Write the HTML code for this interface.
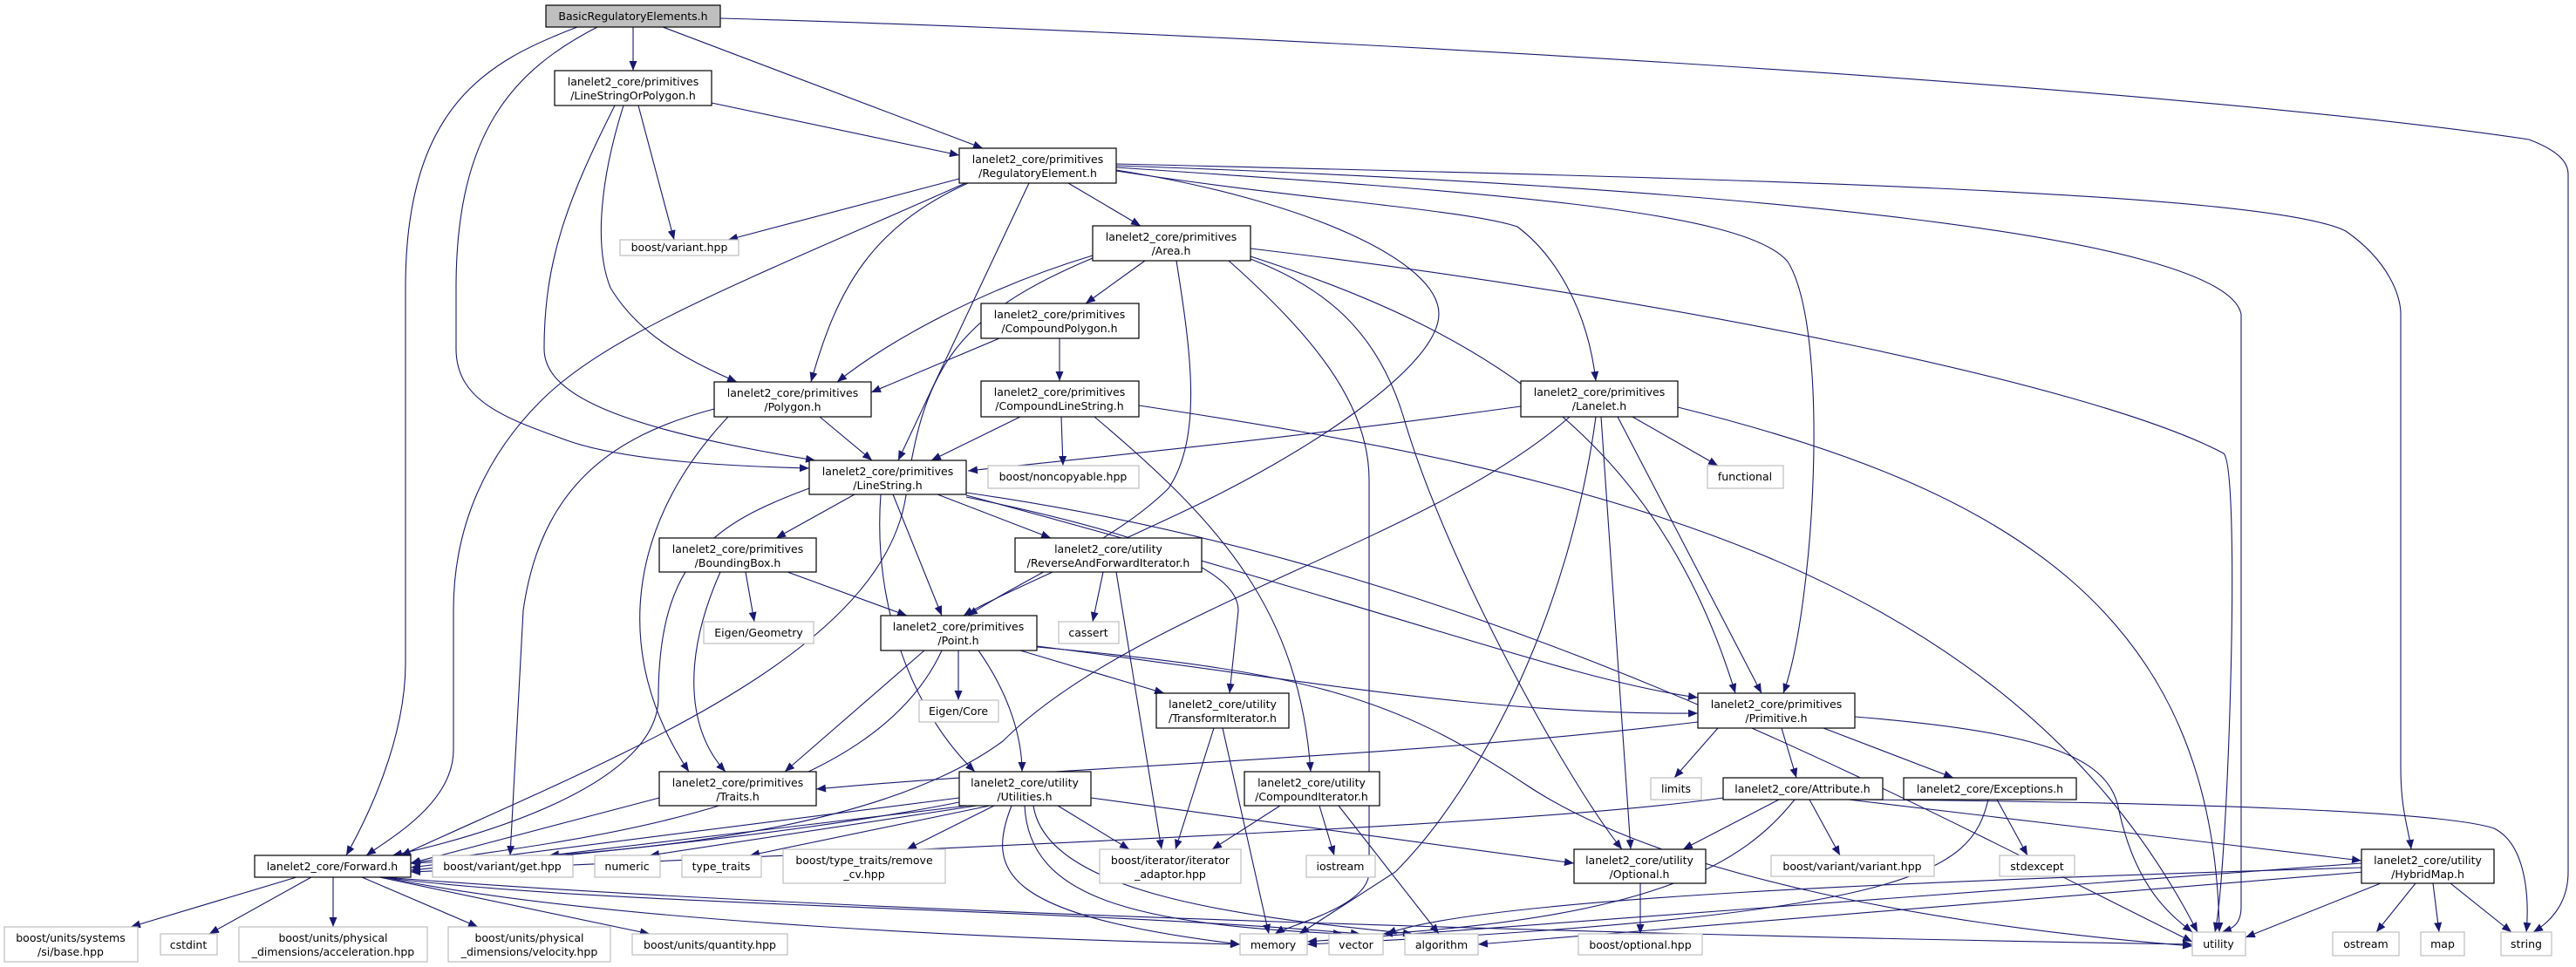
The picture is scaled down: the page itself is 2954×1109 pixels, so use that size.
<!DOCTYPE html>
<html><head><meta charset="utf-8"><style>
html,body{margin:0;padding:0;background:#fff;}
svg{display:block;}
text{font-family:"DejaVu Sans","Liberation Sans",sans-serif;font-size:12.5px;fill:#000;}
.e{fill:none;stroke:#191970;stroke-width:1.1;marker-end:url(#a);}
.n{fill:#fff;stroke:#000;stroke-width:1.2;}
.g{fill:#fff;stroke:#bfbfbf;stroke-width:1.2;}
</style></head><body>
<svg width="2954" height="1109" viewBox="0 0 2954 1109" xmlns="http://www.w3.org/2000/svg">
<defs><marker id="a" markerUnits="userSpaceOnUse" markerWidth="12" markerHeight="9" refX="11" refY="4.5" orient="auto"><path d="M0,0 L11,4.5 L0,9 z" fill="#191970"/></marker></defs>
<g>
<path class="e" d="M726,31 L726,81"/>
<path class="e" d="M760,31 L1127,170"/>
<path class="e" d="M662,31 C560,70 465,120 465,330 L465,760 C465,850 420,940 397,981"/>
<path class="e" d="M685,31 C590,80 523,150 523,330 L523,400 C523,460 580,480 650,505 C720,530 850,535 928,537"/>
<path class="e" d="M826,21 C1500,40 2500,100 2900,160 C2940,175 2945,190 2945,200 L2945,1000 C2945,1040 2920,1060 2905,1069"/>
<path class="e" d="M816,118 L1100,178"/>
<path class="e" d="M732,121 L773,275"/>
<path class="e" d="M715,121 C690,200 680,280 700,330 C730,380 780,410 845,438"/>
<path class="e" d="M705,121 C650,230 624,300 624,400 C624,450 700,490 935,528"/>
<path class="e" d="M1100,205 L835,275"/>
<path class="e" d="M1107,210 C860,320 700,380 620,460 C560,520 520,600 520,700 L520,860 C520,920 450,960 420,981"/>
<path class="e" d="M1110,210 C1000,260 960,330 930,438"/>
<path class="e" d="M1180,210 L1030,528"/>
<path class="e" d="M1225,210 L1308,259"/>
<path class="e" d="M1280,195 C1500,230 1650,300 1650,360 C1650,420 1500,520 1350,590 C1200,660 1130,690 1105,706"/>
<path class="e" d="M1280,196 C1500,230 1680,240 1740,260 C1780,290 1820,350 1830,437"/>
<path class="e" d="M1280,192 C1700,220 2000,240 2050,300 C2100,380 2080,700 2045,795"/>
<path class="e" d="M1280,190 C2000,215 2550,270 2570,360 L2570,1040 C2570,1060 2560,1065 2548,1069"/>
<path class="e" d="M1280,188 C2000,205 2600,220 2690,265 C2740,300 2753,340 2753,360 L2753,880 C2753,930 2762,950 2765,974"/>
<path class="e" d="M1253,293 C1130,330 1020,390 960,438"/>
<path class="e" d="M1253,296 C1100,360 1060,420 1040,560 C1020,750 700,870 460,981"/>
<path class="e" d="M1313,299 L1245,348"/>
<path class="e" d="M1349,299 C1365,400 1380,500 1340,560 C1280,620 1180,660 1110,706"/>
<path class="e" d="M1409,299 C1500,380 1570,460 1570,550 L1570,1000 C1570,1040 1480,1060 1462,1071"/>
<path class="e" d="M1434,297 C1520,330 1580,380 1610,480 C1660,650 1800,900 1860,974"/>
<path class="e" d="M1434,294 C1700,380 1900,500 1990,795"/>
<path class="e" d="M1434,285 C1900,340 2400,440 2550,520 C2570,540 2555,1000 2540,1069"/>
<path class="e" d="M1146,388 L999,450"/>
<path class="e" d="M1215,388 L1215,437"/>
<path class="e" d="M1170,478 L1068,528"/>
<path class="e" d="M1217,478 L1219,534"/>
<path class="e" d="M1255,478 C1400,600 1490,700 1503,885"/>
<path class="e" d="M1306,465 C1800,540 2300,640 2520,1069"/>
<path class="e" d="M1744,466 C1500,500 1300,520 1110,540"/>
<path class="e" d="M1800,478 C1640,620 1300,700 1150,850 C1000,960 700,980 471,990"/>
<path class="e" d="M1830,478 C1800,700 1700,900 1600,1000 L1490,1071"/>
<path class="e" d="M1836,478 L1870,974"/>
<path class="e" d="M1855,478 L2020,795"/>
<path class="e" d="M1872,478 L1970,534"/>
<path class="e" d="M1924,467 C2300,560 2540,700 2545,1069"/>
<path class="e" d="M940,478 L1000,528"/>
<path class="e" d="M819,469 C700,500 620,560 600,700 L585,981"/>
<path class="e" d="M835,478 C720,600 700,750 790,885"/>
<path class="e" d="M980,567 L890,617"/>
<path class="e" d="M928,560 C820,600 755,640 755,800 C755,900 550,960 450,981"/>
<path class="e" d="M1024,567 L1080,706"/>
<path class="e" d="M1010,567 C1000,700 1050,820 1118,885"/>
<path class="e" d="M1075,567 L1205,617"/>
<path class="e" d="M1108,570 C1300,610 1420,650 1420,700 L1410,795"/>
<path class="e" d="M1108,568 C1600,700 1800,780 1947,800"/>
<path class="e" d="M1108,565 C1700,650 2150,900 2514,1080"/>
<path class="e" d="M855,656 L865,713"/>
<path class="e" d="M826,656 C780,760 790,840 832,885"/>
<path class="e" d="M903,656 L1040,706"/>
<path class="e" d="M1265,656 L1253,713"/>
<path class="e" d="M1280,656 L1332,974"/>
<path class="e" d="M1099,746 L1099,803"/>
<path class="e" d="M1060,746 L900,885"/>
<path class="e" d="M1080,746 C1000,920 700,960 470,990"/>
<path class="e" d="M1122,746 C1160,800 1172,850 1172,885"/>
<path class="e" d="M1170,746 L1335,795"/>
<path class="e" d="M1189,741 C1500,780 1700,820 1947,818"/>
<path class="e" d="M1189,742 C1500,770 1600,800 1750,900 C1900,1000 2200,1060 2514,1085"/>
<path class="e" d="M1392,835 L1348,974"/>
<path class="e" d="M1402,835 L1455,1071"/>
<path class="e" d="M1100,915 L471,995"/>
<path class="e" d="M1100,920 C900,960 600,985 471,998"/>
<path class="e" d="M1110,924 L630,981"/>
<path class="e" d="M1120,924 L745,981"/>
<path class="e" d="M1135,924 L860,981"/>
<path class="e" d="M1140,924 L1040,974"/>
<path class="e" d="M1213,924 L1295,974"/>
<path class="e" d="M1251,915 L1805,990"/>
<path class="e" d="M1160,924 C1130,1000 1150,1050 1422,1083"/>
<path class="e" d="M1175,924 C1180,1030 1300,1060 1540,1071"/>
<path class="e" d="M1185,924 C1200,1020 1400,1050 1620,1071"/>
<path class="e" d="M1468,924 L1390,974"/>
<path class="e" d="M1513,924 L1530,981"/>
<path class="e" d="M1535,924 L1650,1071"/>
<path class="e" d="M1947,828 C1600,870 1200,880 936,905"/>
<path class="e" d="M1970,835 L1920,892"/>
<path class="e" d="M2043,835 L2060,892"/>
<path class="e" d="M2091,835 L2240,892"/>
<path class="e" d="M2127,822 C2350,840 2420,870 2430,930 C2450,1020 2490,1050 2514,1069"/>
<path class="e" d="M1976,915 C1800,940 1400,960 471,1000"/>
<path class="e" d="M2040,917 L1930,974"/>
<path class="e" d="M2058,917 C2000,990 1900,1050 1586,1071"/>
<path class="e" d="M2075,917 L2110,981"/>
<path class="e" d="M2120,917 L2708,987"/>
<path class="e" d="M2130,917 C2500,920 2800,930 2860,950 C2900,970 2900,1040 2897,1069"/>
<path class="e" d="M2280,917 C2260,1000 2200,1050 1499,1083"/>
<path class="e" d="M2290,917 L2325,981"/>
<path class="e" d="M2708,990 L1499,1080"/>
<path class="e" d="M2708,995 C2200,1010 1700,1030 1590,1071"/>
<path class="e" d="M2710,1000 L1695,1083"/>
<path class="e" d="M2730,1013 L2575,1075"/>
<path class="e" d="M2770,1013 L2725,1069"/>
<path class="e" d="M2790,1013 L2797,1069"/>
<path class="e" d="M2810,1013 L2880,1069"/>
<path class="e" d="M1881,1013 L1881,1071"/>
<path class="e" d="M340,1006 L150,1063"/>
<path class="e" d="M357,1006 L240,1071"/>
<path class="e" d="M382,1006 L382,1063"/>
<path class="e" d="M415,1006 L548,1063"/>
<path class="e" d="M435,1006 L745,1071"/>
<path class="e" d="M440,1006 C700,1060 1200,1078 1422,1083"/>
<path class="e" d="M438,1006 C700,1040 1200,1040 1560,1071"/>
<path class="e" d="M440,1006 C1000,1050 2000,1075 2514,1083"/>
<path class="e" d="M756,915 L471,990"/>
</g>
<g text-anchor="middle">
<rect x="626" y="6" width="200" height="25" fill="#bfbfbf" stroke="#000" stroke-width="1.2"/><text x="726" y="23">BasicRegulatoryElements.h</text>
<rect class="n" x="636" y="81" width="180" height="40"/><text x="726" y="98">lanelet2_core/primitives</text><text x="726" y="114">/LineStringOrPolygon.h</text>
<rect class="g" x="711" y="275" width="136" height="18"/><text x="779" y="288">boost/variant.hpp</text>
<rect class="n" x="1100" y="170" width="180" height="40"/><text x="1190" y="187">lanelet2_core/primitives</text><text x="1190" y="203">/RegulatoryElement.h</text>
<rect class="n" x="1253" y="259" width="181" height="40"/><text x="1343" y="276">lanelet2_core/primitives</text><text x="1343" y="292">/Area.h</text>
<rect class="n" x="1125" y="348" width="181" height="40"/><text x="1215" y="365">lanelet2_core/primitives</text><text x="1215" y="381">/CompoundPolygon.h</text>
<rect class="n" x="1125" y="437" width="181" height="41"/><text x="1215" y="454">lanelet2_core/primitives</text><text x="1215" y="470">/CompoundLineString.h</text>
<rect class="n" x="1744" y="437" width="180" height="41"/><text x="1834" y="454">lanelet2_core/primitives</text><text x="1834" y="470">/Lanelet.h</text>
<rect class="n" x="819" y="438" width="180" height="40"/><text x="909" y="455">lanelet2_core/primitives</text><text x="909" y="471">/Polygon.h</text>
<rect class="g" x="1133" y="534" width="173" height="26"/><text x="1219" y="551">boost/noncopyable.hpp</text>
<rect class="g" x="1958" y="534" width="87" height="26"/><text x="2001" y="551">functional</text>
<rect class="n" x="928" y="528" width="180" height="39"/><text x="1018" y="545">lanelet2_core/primitives</text><text x="1018" y="561">/LineString.h</text>
<rect class="n" x="756" y="617" width="180" height="39"/><text x="846" y="634">lanelet2_core/primitives</text><text x="846" y="650">/BoundingBox.h</text>
<rect class="n" x="1164" y="617" width="214" height="39"/><text x="1271" y="634">lanelet2_core/utility</text><text x="1271" y="650">/ReverseAndForwardIterator.h</text>
<rect class="g" x="807" y="713" width="126" height="25"/><text x="870" y="730">Eigen/Geometry</text>
<rect class="g" x="1214" y="713" width="69" height="25"/><text x="1248" y="730">cassert</text>
<rect class="n" x="1010" y="706" width="179" height="40"/><text x="1099" y="723">lanelet2_core/primitives</text><text x="1099" y="739">/Point.h</text>
<rect class="g" x="1054" y="803" width="91" height="25"/><text x="1099" y="820">Eigen/Core</text>
<rect class="n" x="1326" y="795" width="152" height="40"/><text x="1402" y="812">lanelet2_core/utility</text><text x="1402" y="828">/TransformIterator.h</text>
<rect class="n" x="1947" y="795" width="180" height="40"/><text x="2037" y="812">lanelet2_core/primitives</text><text x="2037" y="828">/Primitive.h</text>
<rect class="n" x="756" y="885" width="180" height="39"/><text x="846" y="902">lanelet2_core/primitives</text><text x="846" y="918">/Traits.h</text>
<rect class="n" x="1100" y="885" width="151" height="39"/><text x="1175" y="902">lanelet2_core/utility</text><text x="1175" y="918">/Utilities.h</text>
<rect class="n" x="1427" y="885" width="155" height="39"/><text x="1504" y="902">lanelet2_core/utility</text><text x="1504" y="918">/CompoundIterator.h</text>
<rect class="g" x="1893" y="892" width="58" height="25"/><text x="1922" y="909">limits</text>
<rect class="n" x="1976" y="892" width="183" height="25"/><text x="2067" y="909">lanelet2_core/Attribute.h</text>
<rect class="n" x="2183" y="892" width="198" height="25"/><text x="2282" y="909">lanelet2_core/Exceptions.h</text>
<rect class="n" x="292" y="981" width="179" height="25"/><text x="381" y="998">lanelet2_core/Forward.h</text>
<rect class="g" x="496" y="981" width="161" height="25"/><text x="576" y="998">boost/variant/get.hpp</text>
<rect class="g" x="682" y="981" width="75" height="25"/><text x="719" y="998">numeric</text>
<rect class="g" x="782" y="981" width="91" height="25"/><text x="827" y="998">type_traits</text>
<rect class="g" x="898" y="974" width="186" height="39"/><text x="991" y="991">boost/type_traits/remove</text><text x="991" y="1007">_cv.hpp</text>
<rect class="g" x="1261" y="974" width="162" height="39"/><text x="1342" y="991">boost/iterator/iterator</text><text x="1342" y="1007">_adaptor.hpp</text>
<rect class="g" x="1498" y="981" width="79" height="25"/><text x="1537" y="998">iostream</text>
<rect class="n" x="1805" y="974" width="151" height="39"/><text x="1880" y="991">lanelet2_core/utility</text><text x="1880" y="1007">/Optional.h</text>
<rect class="g" x="2031" y="981" width="187" height="24"/><text x="2124" y="998">boost/variant/variant.hpp</text>
<rect class="g" x="2293" y="981" width="86" height="24"/><text x="2336" y="998">stdexcept</text>
<rect class="n" x="2708" y="974" width="152" height="39"/><text x="2784" y="991">lanelet2_core/utility</text><text x="2784" y="1007">/HybridMap.h</text>
<rect class="g" x="5" y="1063" width="153" height="40"/><text x="81" y="1080">boost/units/systems</text><text x="81" y="1096">/si/base.hpp</text>
<rect class="g" x="184" y="1071" width="65" height="24"/><text x="216" y="1088">cstdint</text>
<rect class="g" x="274" y="1063" width="216" height="40"/><text x="382" y="1080">boost/units/physical</text><text x="382" y="1096">_dimensions/acceleration.hpp</text>
<rect class="g" x="514" y="1063" width="186" height="40"/><text x="607" y="1080">boost/units/physical</text><text x="607" y="1096">_dimensions/velocity.hpp</text>
<rect class="g" x="725" y="1071" width="178" height="24"/><text x="814" y="1088">boost/units/quantity.hpp</text>
<rect class="g" x="1422" y="1071" width="77" height="24"/><text x="1460" y="1088">memory</text>
<rect class="g" x="1524" y="1071" width="62" height="24"/><text x="1555" y="1088">vector</text>
<rect class="g" x="1611" y="1071" width="84" height="24"/><text x="1653" y="1088">algorithm</text>
<rect class="g" x="1810" y="1071" width="142" height="24"/><text x="1881" y="1088">boost/optional.hpp</text>
<rect class="g" x="2514" y="1069" width="61" height="27"/><text x="2544" y="1087">utility</text>
<rect class="g" x="2675" y="1069" width="76" height="27"/><text x="2713" y="1087">ostream</text>
<rect class="g" x="2776" y="1069" width="50" height="27"/><text x="2801" y="1087">map</text>
<rect class="g" x="2868" y="1069" width="58" height="27"/><text x="2897" y="1087">string</text>
</g>
</svg>
</body></html>
